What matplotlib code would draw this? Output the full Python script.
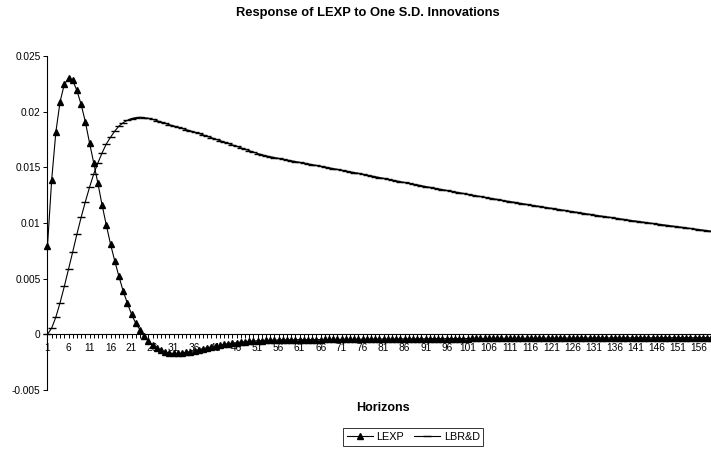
import numpy as np
import matplotlib
matplotlib.use("Agg")
import matplotlib.pyplot as plt
from matplotlib.ticker import FixedLocator, FuncFormatter

plt.rcParams['font.family'] = ['Liberation Sans', 'DejaVu Sans']

# impulse responses, in units of 1e-3, horizons 1..159
lexp = [
    7.94, 13.90, 18.20, 20.90, 22.45, 23.00, 22.80, 21.90, 20.65, 19.10,
    17.20, 15.40, 13.55, 11.60, 9.80, 8.10, 6.60, 5.20, 3.90, 2.80,
    1.80, 1.00, 0.42, -0.18, -0.60, -0.95, -1.25, -1.45, -1.60, -1.68,
    -1.72, -1.72, -1.68, -1.62, -1.55, -1.47, -1.38, -1.29, -1.20, -1.12,
    -1.04, -0.97, -0.90, -0.84, -0.79, -0.74, -0.70, -0.66, -0.63, -0.60,
    -0.58, -0.56, -0.54, -0.53, -0.52, -0.51, -0.50, -0.50, -0.49, -0.49,
    -0.48, -0.48, -0.48, -0.47, -0.47, -0.47, -0.46, -0.46, -0.46, -0.45,
    -0.45, -0.45, -0.45, -0.44, -0.44, -0.44, -0.43, -0.43, -0.43, -0.43,
    -0.42, -0.42, -0.42, -0.42, -0.41, -0.41, -0.41, -0.41, -0.40, -0.40,
    -0.40, -0.40, -0.39, -0.39, -0.39, -0.39, -0.39, -0.38, -0.38, -0.38,
    -0.38, -0.37, -0.37, -0.37, -0.37, -0.37, -0.36, -0.36, -0.36, -0.36,
    -0.36, -0.35, -0.35, -0.35, -0.35, -0.35, -0.35, -0.34, -0.34, -0.34,
    -0.34, -0.34, -0.34, -0.33, -0.33, -0.33, -0.33, -0.33, -0.33, -0.33,
    -0.32, -0.32, -0.32, -0.32, -0.32, -0.32, -0.32, -0.32, -0.31, -0.31,
    -0.31, -0.31, -0.31, -0.31, -0.31, -0.31, -0.31, -0.30, -0.30, -0.30,
    -0.30, -0.30, -0.30, -0.30, -0.30, -0.30, -0.30, -0.30, -0.30,
]
lbrd = [
    0.00, 0.57, 1.56, 2.85, 4.30, 5.85, 7.40, 9.00, 10.50, 11.90,
    13.20, 14.40, 15.40, 16.30, 17.10, 17.70, 18.25, 18.70, 19.00, 19.22,
    19.38, 19.46, 19.49, 19.46, 19.40, 19.31, 19.20, 19.07, 18.94, 18.83,
    18.72, 18.61, 18.50, 18.39, 18.28, 18.17, 18.05, 17.92, 17.79, 17.66,
    17.53, 17.40, 17.27, 17.14, 17.01, 16.88, 16.75, 16.62, 16.49, 16.36,
    16.24, 16.13, 16.03, 15.95, 15.87, 15.80, 15.73, 15.66, 15.59, 15.52,
    15.45, 15.38, 15.31, 15.24, 15.17, 15.10, 15.03, 14.96, 14.89, 14.82,
    14.75, 14.68, 14.61, 14.53, 14.46, 14.38, 14.31, 14.23, 14.16, 14.08,
    14.01, 13.93, 13.86, 13.78, 13.71, 13.64, 13.56, 13.49, 13.42, 13.35,
    13.27, 13.20, 13.13, 13.06, 12.99, 12.92, 12.85, 12.78, 12.71, 12.65,
    12.58, 12.51, 12.44, 12.38, 12.31, 12.25, 12.18, 12.12, 12.05, 11.99,
    11.93, 11.86, 11.80, 11.74, 11.67, 11.61, 11.55, 11.49, 11.43, 11.37,
    11.31, 11.25, 11.19, 11.13, 11.07, 11.01, 10.95, 10.89, 10.84, 10.78,
    10.72, 10.66, 10.61, 10.55, 10.50, 10.44, 10.39, 10.33, 10.28, 10.22,
    10.17, 10.11, 10.06, 10.01, 9.96, 9.91, 9.86, 9.81, 9.76, 9.71,
    9.66, 9.61, 9.56, 9.51, 9.46, 9.41, 9.36, 9.31, 9.26,
]
horizons = list(range(1, len(lexp) + 1))
x_labels = [str(h) for h in horizons if (h - 1) % 5 == 0]
y_ticks = [-0.005, 0, 0.005, 0.01, 0.015, 0.02, 0.025]

lexp = np.array(lexp) / 1000.0
lbrd = np.array(lbrd) / 1000.0

fig = plt.figure(figsize=(7.11, 4.57), dpi=100)
ax = fig.add_axes([0.0668, 0.1466, 0.9332, 0.7309])

ax.plot(horizons, lexp, color='black', lw=0.8, marker='^', ms=5,
        label='LEXP', clip_on=False, zorder=3)
ax.plot(horizons, lbrd, color='black', lw=0.8, marker='_', ms=5.5, mew=1.0,
        label='LBR&D', clip_on=False, zorder=3)

ax.set_xlim(1, 158.9)
ax.set_ylim(-0.005, 0.025)

ax.spines['top'].set_visible(False)
ax.spines['right'].set_visible(False)
ax.spines['bottom'].set_position(('data', 0))
ax.spines['bottom'].set_linewidth(0.8)
ax.spines['left'].set_linewidth(0.8)

ax.xaxis.set_major_locator(FixedLocator([h for h in horizons if (h - 1) % 5 == 0]))
ax.set_xticklabels(x_labels)
ax.xaxis.set_minor_locator(FixedLocator(horizons))
ax.tick_params(axis='x', which='both', direction='out', length=3, width=0.7,
               labelsize=7.3, pad=3)
ax.set_yticks(y_ticks)
ax.yaxis.set_major_formatter(FuncFormatter(lambda v, p: '%g' % round(v, 4) if v != 0 else '0'))
ax.tick_params(axis='y', direction='out', length=3, width=0.7, labelsize=7.3, pad=2)

fig.text(0.518, 0.972, 'Response of LEXP to One S.D. Innovations',
         ha='center', va='center', fontsize=9.3, fontweight='bold')
fig.text(0.538, 0.107, 'Horizons', ha='center', va='center',
         fontsize=9, fontweight='bold')

leg = fig.legend(loc='center', bbox_to_anchor=(0.581, 0.044), ncol=2,
                 fontsize=7.8, frameon=True, fancybox=False, handlelength=2.4,
                 columnspacing=1.0, handletextpad=0.3, borderpad=0.35)
leg.get_frame().set_edgecolor('black')
leg.get_frame().set_linewidth(0.7)

fig.savefig('out.png', dpi=100)
